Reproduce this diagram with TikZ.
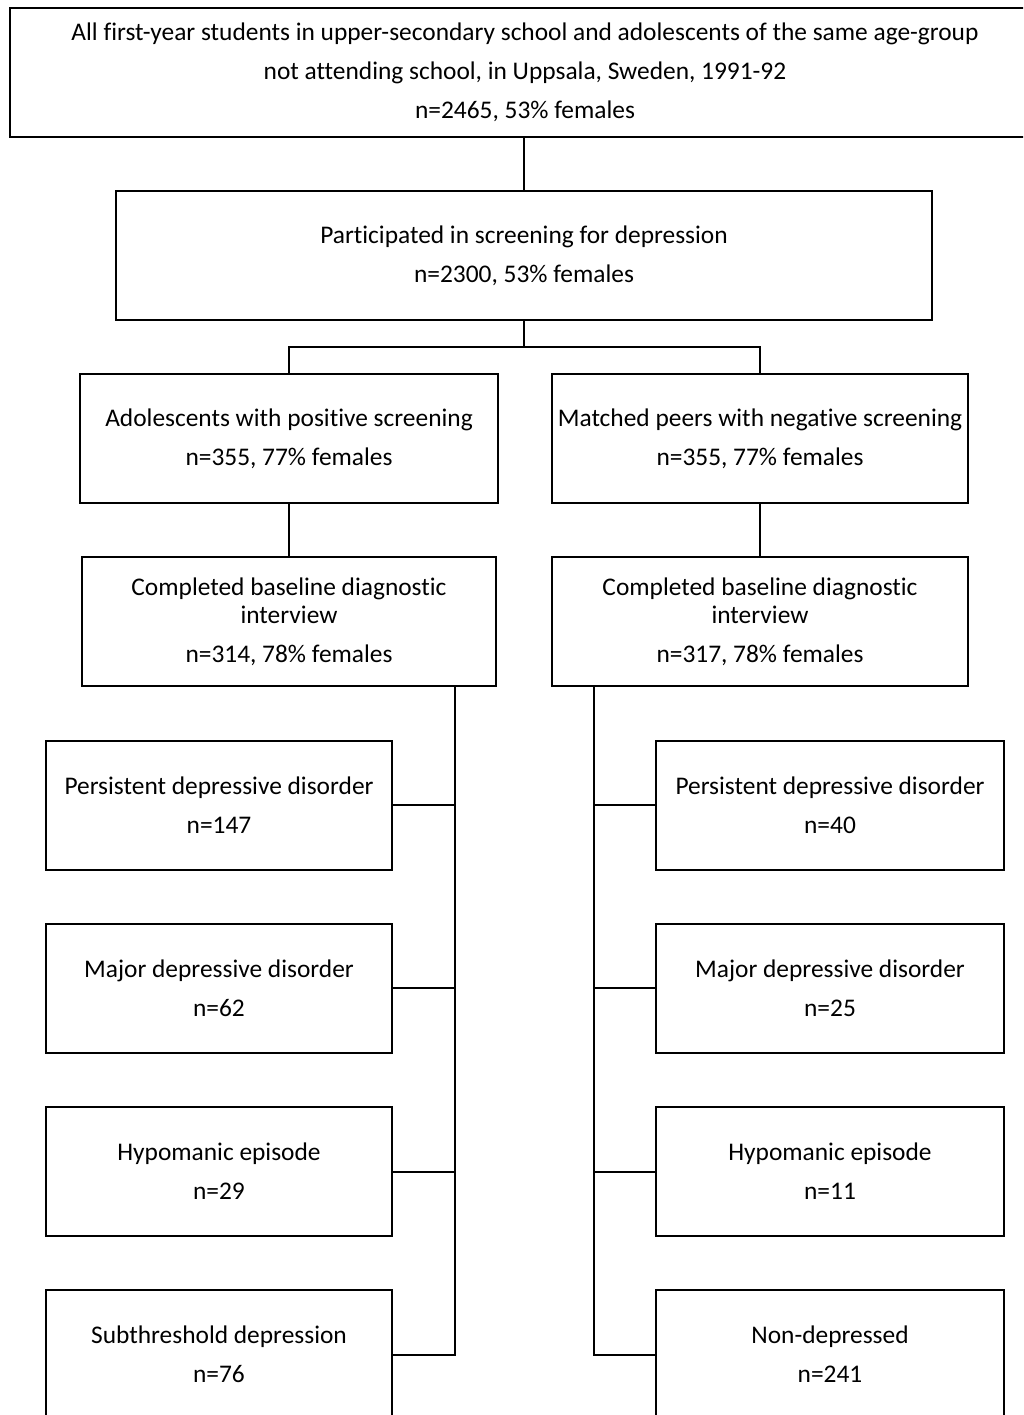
\documentclass[tikz,border=0pt]{standalone}
\usepackage{fontspec}
\setmainfont{Carlito}[Ligatures=CommonOff]
\begin{document}
\begin{tikzpicture}[x=1pt,y=-1pt,
  box/.style={draw=black, line width=2pt, align=center, inner sep=0pt, minimum height=129pt,
    font=\fontsize{25.4}{39}\selectfont},
  conn/.style={draw=black, line width=2pt}]
\useasboundingbox (0,0) rectangle (1023,1415);
\clip (0,0) rectangle (1023,1415);
% main column
\node[box, minimum width=1030pt] (top) at (525,72.5) {All first-year students in upper-secondary school and adolescents of the same age-group\\not attending school, in Uppsala, Sweden, 1991-92\\n=2465, 53\% females};
\node[box, minimum width=816pt] (scr) at (524,255.5) {Participated in screening for depression\\n=2300, 53\% females};
\node[box, minimum width=418pt] (pos) at (289,438.5) {Adolescents with positive screening\\n=355, 77\% females};
\node[box, minimum width=416pt] (neg) at (760,438.5) {Matched peers with negative screening\\n=355, 77\% females};
\node[box, minimum width=414pt] (cpos) at (289,621.5) {Completed baseline diagnostic\\[-11pt]interview\\n=314, 78\% females};
\node[box, minimum width=416pt] (cneg) at (760,621.5) {Completed baseline diagnostic\\[-11pt]interview\\n=317, 78\% females};
% left outcomes
\node[box, minimum width=346pt] (l1) at (219,805) {Persistent depressive disorder\\n=147};
\node[box, minimum width=346pt] (l2) at (219,988) {Major depressive disorder\\n=62};
\node[box, minimum width=346pt] (l3) at (219,1171.5) {Hypomanic episode\\n=29};
\node[box, minimum width=346pt] (l4) at (219,1354.5) {Subthreshold depression\\n=76};
% right outcomes
\node[box, minimum width=348pt] (r1) at (830,805) {Persistent depressive disorder\\n=40};
\node[box, minimum width=348pt] (r2) at (830,988) {Major depressive disorder\\n=25};
\node[box, minimum width=348pt] (r3) at (830,1171.5) {Hypomanic episode\\n=11};
\node[box, minimum width=348pt] (r4) at (830,1354.5) {Non-depressed\\n=241};
% connectors
\draw[conn] (scr.north) -- (scr.north |- top.south);
\coordinate (j) at (524,347);
\draw[conn] (scr.south) -- (j);
\draw[conn] (pos.north) |- (j) -| (neg.north);
\draw[conn] (pos.south) -- (cpos.north);
\draw[conn] (neg.south) -- (cneg.north);
\coordinate (lt) at (455,686);
\coordinate (rt) at (594,686);
\draw[conn] (lt) -- (lt |- l4.east) -- (l4.east);
\draw[conn] (l1.east) -- (l1.east -| lt);
\draw[conn] (l2.east) -- (l2.east -| lt);
\draw[conn] (l3.east) -- (l3.east -| lt);
\draw[conn] (rt) -- (rt |- r4.west) -- (r4.west);
\draw[conn] (r1.west) -- (r1.west -| rt);
\draw[conn] (r2.west) -- (r2.west -| rt);
\draw[conn] (r3.west) -- (r3.west -| rt);
\end{tikzpicture}
\end{document}
